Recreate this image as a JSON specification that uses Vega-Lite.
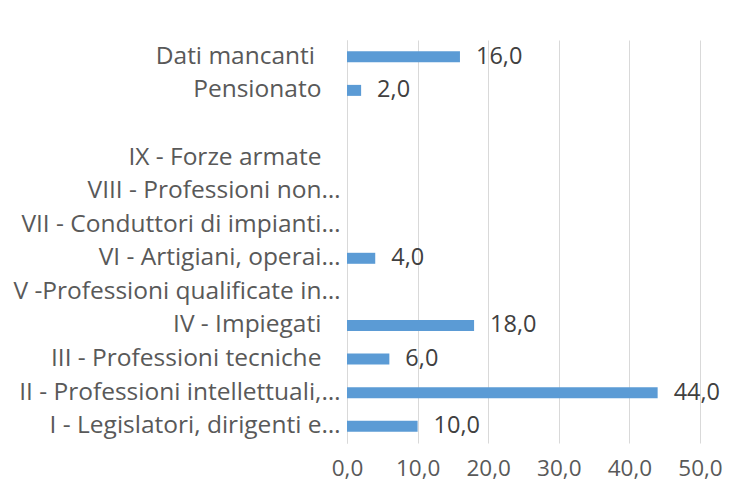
{
  "$schema": "https://vega.github.io/schema/vega-lite/v6.json",
  "width": 353,
  "height": 403,
  "autosize": {"type": "none"},
  "padding": {"left": 347, "top": 40, "right": 37, "bottom": 54},
  "background": "white",
  "config": {
    "locale": {"number": {"decimal": ",", "thousands": ".", "grouping": [3], "currency": ["", " €"]}},
    "view": {"stroke": null},
    "font": "Open Sans"
  },
  "data": {
    "values": [
      {"categoria": "Dati mancanti", "valore": 16},
      {"categoria": "Pensionato", "valore": 2},
      {"categoria": " ", "valore": null},
      {"categoria": "IX - Forze armate", "valore": null},
      {"categoria": "VIII - Professioni non…", "valore": null},
      {"categoria": "VII - Conduttori di impianti…", "valore": null},
      {"categoria": "VI - Artigiani, operai…", "valore": 4},
      {"categoria": "V -Professioni qualificate in…", "valore": null},
      {"categoria": "IV - Impiegati", "valore": 18},
      {"categoria": "III - Professioni tecniche", "valore": 6},
      {"categoria": "II - Professioni intellettuali,…", "valore": 44},
      {"categoria": "I - Legislatori, dirigenti e…", "valore": 10}
    ]
  },
  "encoding": {
    "y": {
      "field": "categoria",
      "type": "nominal",
      "sort": null,
      "scale": {
        "domain": ["Dati mancanti", "Pensionato", " ", "IX - Forze armate", "VIII - Professioni non…", "VII - Conduttori di impianti…", "VI - Artigiani, operai…", "V -Professioni qualificate in…", "IV - Impiegati", "III - Professioni tecniche", "II - Professioni intellettuali,…", "I - Legislatori, dirigenti e…"],
        "paddingInner": 0,
        "paddingOuter": 0
      },
      "axis": {
        "title": null,
        "domain": true,
        "domainColor": "#d9d9d9",
        "domainWidth": 1,
        "ticks": false,
        "grid": false,
        "labelPadding": 7,
        "labelFontSize": 24.5,
        "labelColor": "#595959",
        "labelLimit": 400,
        "labelExpr": "indexof(datum.label, '…') >= 0 ? datum.label : (datum.label == 'Dati mancanti' ? datum.label + '\u00a0\u00a0\u00a0\u00a0\u200b' : datum.label + '\u00a0\u00a0\u00a0\u200b')"
      }
    }
  },
  "layer": [
    {
      "mark": {"type": "bar", "color": "#5b9bd5", "height": 11},
      "encoding": {
        "x": {
          "field": "valore",
          "type": "quantitative",
          "scale": {"domain": [0, 50], "nice": false},
          "axis": {
            "title": null,
            "values": [0, 10, 20, 30, 40, 50],
            "format": ".1f",
            "grid": true,
            "gridColor": "#d9d9d9",
            "gridWidth": 1,
            "domain": false,
            "ticks": false,
            "labelFlush": false,
            "labelFontSize": 22.5,
            "labelColor": "#595959",
            "labelPadding": 14
          }
        }
      }
    },
    {
      "mark": {"type": "text", "align": "left", "baseline": "middle", "dx": 16, "fontSize": 23.5, "color": "#404040"},
      "encoding": {
        "x": {"field": "valore", "type": "quantitative"},
        "text": {"field": "valore", "type": "quantitative", "format": ".1f"}
      }
    }
  ]
}
